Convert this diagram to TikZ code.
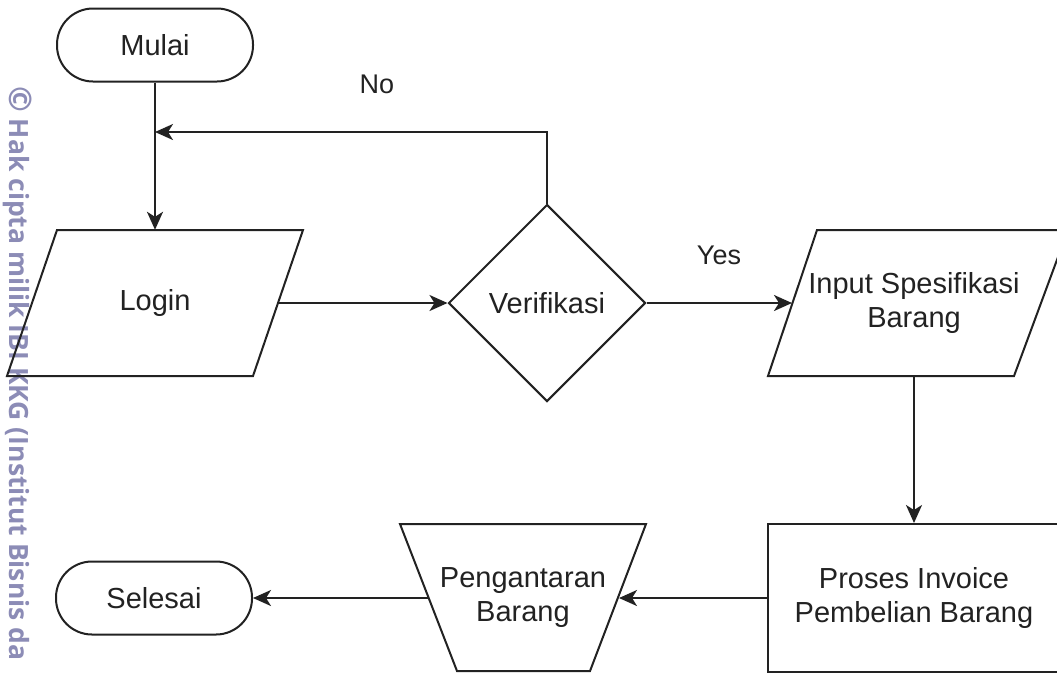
\documentclass[tikz,border=0pt]{standalone}
\usepackage{fontspec}
\setmainfont{Liberation Sans}
\newfontfamily\wmfont{Open Sans}
\usetikzlibrary{shapes.geometric,arrows.meta}
\definecolor{ink}{HTML}{222222}
\definecolor{wm}{HTML}{8C8CB6}
\tikzset{
  outline/.style={draw=ink, line width=2pt, line join=miter},
  txt/.style={font=\fontsize{29}{34}\selectfont, text=ink, align=center, inner sep=0pt},
  term/.style={outline, txt, rounded corners=36pt, minimum width=196pt, minimum height=73pt},
  arr/.style={draw=ink, line width=2.2pt, -{Stealth[length=18pt,width=16pt,inset=5pt]}},
  lbl/.style={font=\fontsize{27}{32}\selectfont, text=ink, inner sep=0pt}
}
\begin{document}
\begin{tikzpicture}[x=1pt,y=-1pt]
\useasboundingbox (0,0) rectangle (1057,673);
\fill[white] (0,0) rectangle (1057,673);

% watermark
\node[font=\wmfont\bfseries\fontsize{26.5}{28}\selectfont, text=wm, rotate=-90, anchor=west, inner sep=0pt] (wmark) at (18,86) {{\fontsize{31}{31}\selectfont\textcopyright}\ Hak cipta milik IBI KKG (Institut Bisnis da};

% terminators
\node[term] (mulai) at (155,45) {Mulai};
\node[term] (selesai) at (154,598) {Selesai};

% Login parallelogram
\draw[outline] (57,230) -- (303,230) -- (253,376) -- (7,376) -- cycle;
\node[txt, minimum height=146pt] (login) at (155,303) {Login};
\coordinate (loginE) at (278,303);

% Verifikasi diamond
\node[outline, txt, diamond, aspect=1, minimum width=197pt, minimum height=197pt] (verif) at (547,303) {Verifikasi};

% Input Spesifikasi parallelogram
\draw[outline] (817,230) -- (1068,230) -- (1014,376) -- (768,376) -- cycle;
\node[txt, minimum height=146pt] (input) at (914,303) {Input Spesifikasi\\Barang};
\coordinate (inputW) at (792,303);

% Proses Invoice rectangle
\node[outline, txt, minimum width=292pt, minimum height=148pt] (proses) at (914,598) {Proses Invoice\\Pembelian Barang};

% Pengantaran trapezoid
\draw[outline] (400,524) -- (646,524) -- (590,671) -- (457,671) -- cycle;
\node[txt] (antar) at (523,598) {Pengantaran\\Barang};
\coordinate (antarE) at (619,598);
\coordinate (antarW) at (429,598);

% connectors
\coordinate (loopend) at (155,132);
\draw[arr] (mulai.south) -- (login.north);
\draw[arr] (loginE) -- (verif.west);
\draw[arr] (verif.east) -- (inputW);
\draw[arr] (verif.north) |- (loopend);
\draw[arr] (input.south) -- (proses.north);
\draw[arr] (proses.west) -- (antarE);
\draw[arr] (antarW) -- (selesai.east);

% labels
\node[lbl] (no) at (377,84) {No};
\node[lbl] (yes) at (719,255) {Yes};
\end{tikzpicture}
\end{document}
